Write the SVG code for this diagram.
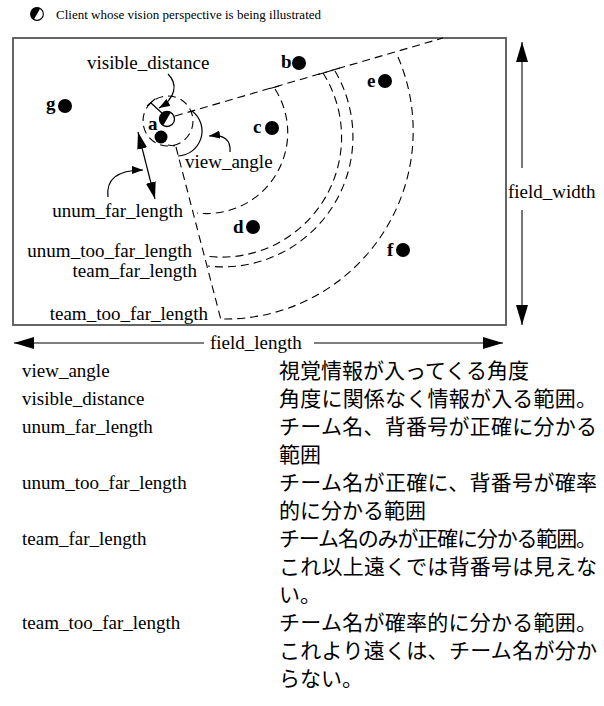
<svg xmlns="http://www.w3.org/2000/svg" width="604" height="706" viewBox="0 0 604 706">
<defs>
<style>
.t{font-family:"Liberation Serif","Times New Roman",serif;font-size:19px;fill:#000}
.lg{font-family:"Liberation Serif","Times New Roman",serif;font-size:13px;fill:#000}
.b{font-weight:bold}
.jp{font-family:"Noto Sans CJK JP","Noto Sans CJK SC",sans-serif;font-size:21px;fill:#000}
.dash{fill:none;stroke:#000;stroke-width:1.1;stroke-dasharray:8 5}
.dot{fill:#000}
.ptr{fill:none;stroke:#000;stroke-width:1.2}
.dim{stroke:#555;stroke-width:1.6;fill:none}
.field{fill:#fff;stroke:#555;stroke-width:1.8}
</style>
<marker id="big" viewBox="0 0 20 12" refX="20" refY="6" markerWidth="20" markerHeight="12" markerUnits="userSpaceOnUse" orient="auto-start-reverse"><path d="M0,0 L20,6 L0,12 z" fill="#000"/></marker>
<marker id="mid" viewBox="0 0 17 10" refX="17" refY="5" markerWidth="17" markerHeight="10" markerUnits="userSpaceOnUse" orient="auto-start-reverse"><path d="M0,0 L17,5 L0,10 z" fill="#000"/></marker>
<marker id="sm" viewBox="0 0 11 8" refX="11" refY="4" markerWidth="11" markerHeight="8" markerUnits="userSpaceOnUse" orient="auto"><path d="M0,0 L11,4 L0,8 z" fill="#000"/></marker>
<g id="clientIcon">
<circle cx="0" cy="0" r="7.5" fill="#fff" stroke="#000" stroke-width="1.3"/>
<path d="M3.75,-6.5 A7.5,7.5 0 0 0 -3.75,6.5 Z" fill="#000"/>
</g>
</defs>

<g id="legend">
<use href="#clientIcon" transform="translate(37,14) scale(0.85)"/>
<text class="lg" x="56" y="19">Client whose vision perspective is being illustrated</text>
</g>

<g id="field">
<rect class="field" x="13" y="38" width="493" height="287"/>
</g>

<g id="connectors">
<path class="dash" d="M175,116 L443,38"/>
<path class="dash" d="M176,147 L221,320"/>
<circle class="dash" cx="168" cy="121" r="25"/>
<path id="arc-unum-far" class="dash" d="M275,89 A81,81 0 0 1 197,213"/>
<path id="arc-unum-too-far" class="dash" d="M323,73 A120,120 0 0 1 205,256"/>
<path id="arc-team-far" class="dash" d="M335,71 A130,130 0 0 1 208,266"/>
<path id="arc-team-too-far" class="dash" d="M398,57 A188,188 0 0 1 222,319"/>
<path class="ptr" d="M270,88.5 L279,86 M318,74.5 L327,72 M331,70.6 L340,68 M168,145 L175,146"/>
<path class="ptr" d="M192,111 A25,25 0 0 1 178,156"/>
<path class="ptr" d="M163,114 L151,103 M147,106 L155,99"/>
<path class="ptr" d="M168,74 C178,84 176,98 159,108" marker-end="url(#sm)"/>
<path class="ptr" d="M230,152 C231,140 224,134 209,136" marker-end="url(#sm)"/>
<path class="ptr" d="M108,197 C106,180 116,170 143,170" marker-end="url(#sm)"/>
<path class="ptr" d="M138,132 L155,199" marker-start="url(#mid)" marker-end="url(#mid)"/>
<path class="dim" d="M522,168 L522,42" marker-end="url(#big)"/>
<path class="dim" d="M522,210 L522,325" marker-end="url(#big)"/>
<path class="ptr" d="M204,343 L14,343" marker-end="url(#big)"/>
<path class="ptr" d="M314,343 L503,343" marker-end="url(#big)"/>
</g>

<g id="player-a"><use href="#clientIcon" transform="translate(167,119)"/><circle class="dot" cx="161" cy="137" r="6.5"/><text class="t b" x="148" y="130">a</text></g>
<g id="player-b"><circle class="dot" cx="299" cy="63" r="7"/><text class="t b" x="281" y="68">b</text></g>
<g id="player-c"><circle class="dot" cx="272" cy="128" r="7"/><text class="t b" x="253" y="133">c</text></g>
<g id="player-d"><circle class="dot" cx="253" cy="227" r="7"/><text class="t b" x="233" y="233">d</text></g>
<g id="player-e"><circle class="dot" cx="385" cy="81" r="7"/><text class="t b" x="367" y="87">e</text></g>
<g id="player-f"><circle class="dot" cx="403" cy="250" r="7"/><text class="t b" x="387" y="256">f</text></g>
<g id="player-g"><circle class="dot" cx="65" cy="106" r="7"/><text class="t b" x="46" y="110">g</text></g>

<g id="labels">
<text class="t" x="87" y="69">visible_distance</text>
<text class="t" x="185" y="168">view_angle</text>
<text class="t" x="183" y="217" text-anchor="end">unum_far_length</text>
<text class="t" x="192" y="257" text-anchor="end">unum_too_far_length</text>
<text class="t" x="197" y="277" text-anchor="end">team_far_length</text>
<text class="t" x="208" y="320" text-anchor="end">team_too_far_length</text>
<text class="t" x="508" y="198">field_width</text>
<text class="t" x="210" y="349">field_length</text>
</g>

<g id="table">
<text class="t" x="22" y="377">view_angle</text>
<text class="jp" x="279" y="378">視覚情報が入ってくる角度</text>
<text class="t" x="22" y="405">visible_distance</text>
<text class="jp" x="279" y="406" textLength="318" lengthAdjust="spacing">角度に関係なく情報が入る範囲。</text>
<text class="t" x="22" y="433">unum_far_length</text>
<text class="jp" x="279" y="434" textLength="318" lengthAdjust="spacing">チーム名、背番号が正確に分かる</text>
<text class="jp" x="279" y="462">範囲</text>
<text class="t" x="22" y="489">unum_too_far_length</text>
<text class="jp" x="279" y="490" textLength="318" lengthAdjust="spacing">チーム名が正確に、背番号が確率</text>
<text class="jp" x="279" y="518">的に分かる範囲</text>
<text class="t" x="22" y="545">team_far_length</text>
<text class="jp" x="279" y="546" textLength="318" lengthAdjust="spacing">チーム名のみが正確に分かる範囲。</text>
<text class="jp" x="279" y="574" textLength="318" lengthAdjust="spacing">これ以上遠くでは背番号は見えな</text>
<text class="jp" x="279" y="602">い。</text>
<text class="t" x="22" y="629">team_too_far_length</text>
<text class="jp" x="279" y="630" textLength="318" lengthAdjust="spacing">チーム名が確率的に分かる範囲。</text>
<text class="jp" x="279" y="658" textLength="318" lengthAdjust="spacing">これより遠くは、チーム名が分か</text>
<text class="jp" x="279" y="686">らない。</text>
</g>
</svg>
